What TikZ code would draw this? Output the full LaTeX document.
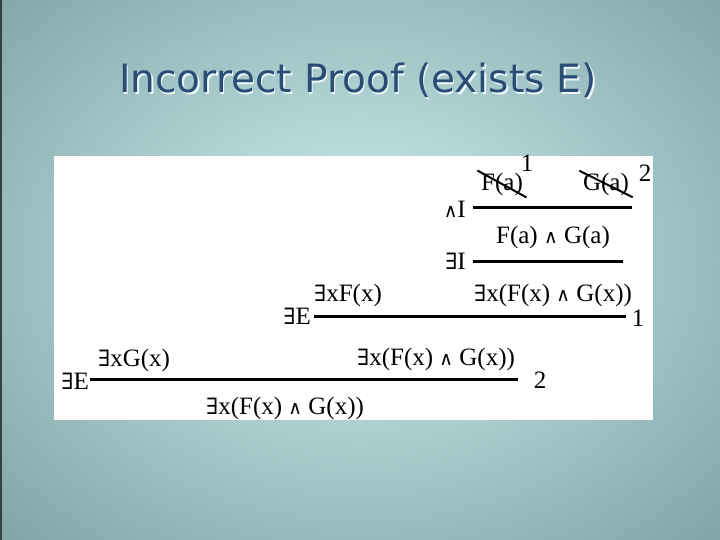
\documentclass[tikz,border=0pt]{standalone}
\usepackage{fontspec}
\usepackage{graphicx}
\setmainfont{Liberation Serif}
\newfontfamily\titlefont{DejaVu Sans}
\newfontfamily\logicfont{DejaVu Serif}

\definecolor{bglight}{HTML}{CDEFEF}
\definecolor{bgdark}{HTML}{7FA4A6}
\definecolor{titleblue}{HTML}{2A4D75}

\newcommand{\conj}{\scalebox{0.75}{\logicfont ∧}}
\newcommand{\ex}{{\logicfont\scalebox{0.9}{∃}}}

\tikzset{
  formula/.style={inner sep=0pt, font=\fontsize{25}{27}\selectfont},
  rulename/.style={formula, anchor=east},
  proofline/.style={line width=3pt},
  strike/.style={line width=2pt, shorten <=-4pt, shorten >=-4pt},
  slidetitle/.style={inner sep=0pt, anchor=base, font=\titlefont\fontsize{39}{42}\selectfont},
}

\begin{document}
\begin{tikzpicture}[x=1pt, y=-1pt]
    \useasboundingbox (0,0) rectangle (720,540);
    \clip (0,0) rectangle (720,540);

    % slide background
    \shade[inner color=bglight, outer color=bgdark] (-160,-140) rectangle (880,660);
    \fill[black!60!bgdark] (0,0) rectangle (1.5,540);

    % title
    \node[slidetitle, text=white!60!bglight] (shadow) at (359.5,94.5) {Incorrect Proof (exists E)};
    \node[slidetitle, text=titleblue] (title) at (358,93) {Incorrect Proof (exists E)};

    % white panel
    \fill[white] (54,156) rectangle (653,420);

    % assumptions, crossed out
    \node[formula] (fa) at (502,184) {F(a)};
    \node[formula] (ga) at (606,184) {G(a)};
    \node[formula] (one) at (527,163) {1};
    \node[formula] (two) at (645,173) {2};
    \draw[strike] (fa.north west) -- (fa.south east);
    \draw[strike] (ga.north west) -- (ga.south east);

    % and intro
    \node[rulename] (andI) at (466,209) {\conj I};
    \coordinate (l1a) at (473,208);
    \coordinate (l1b) at (632,208);
    \draw[proofline] (l1a) -- (l1b);
    \node[formula] (fga) at (553,237) {F(a)~\conj~G(a)};

    % exists intro
    \node[rulename] (exI) at (466,261) {\ex I};
    \coordinate (l2a) at (473,261);
    \coordinate (l2b) at (623,261);
    \draw[proofline] (l2a) -- (l2b);

    % first exists elim
    \node[formula] (exf) at (348,295) {\ex xF(x)};
    \node[formula] (exfg1) at (553,295) {\ex x(F(x)~\conj~G(x))};
    \node[rulename] (exE1) at (311,316) {\ex E};
    \coordinate (l3a) at (314,316);
    \coordinate (l3b) at (626,316);
    \draw[proofline] (l3a) -- (l3b);
    \node[formula] (one2) at (638,318) {1};

    % second exists elim
    \node[formula] (exg) at (134,360) {\ex xG(x)};
    \node[formula] (exfg2) at (436,359) {\ex x(F(x)~\conj~G(x))};
    \node[rulename] (exE2) at (89,381) {\ex E};
    \coordinate (l4a) at (90,379);
    \coordinate (l4b) at (518,379);
    \draw[proofline] (l4a) -- (l4b);
    \node[formula] (two2) at (540,380) {2};
    \node[formula] (exfg3) at (285,408) {\ex x(F(x)~\conj~G(x))};

\end{tikzpicture}
\end{document}
